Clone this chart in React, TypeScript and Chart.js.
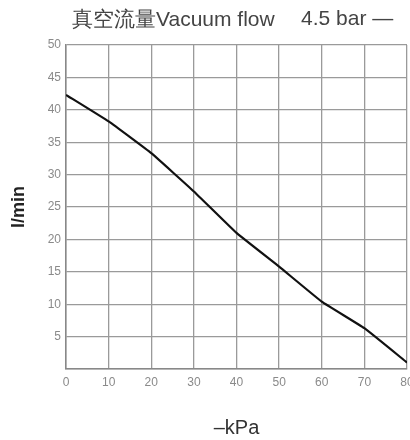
import React, { useEffect, useRef } from "react";
import { Chart, registerables } from "chart.js";

Chart.register(...registerables);

const pressures: number[] = [0, 10, 20, 30, 40, 50, 60, 70, 80];
const flows: number[] = [42.3, 38.2, 33.3, 27.4, 21.0, 15.8, 10.4, 6.3, 1.0];
const titleMain = "真空流量Vacuum flow";
const titleSeries = "4.5 bar —";
const yTitle = "l/min";
const xTitle = "–kPa";

const FONT = "'Liberation Sans', Arial, sans-serif";

const titlePlugin = {
  id: "customTitle",
  afterDraw(chart: any) {
    const ctx = chart.ctx;
    ctx.save();
    ctx.fillStyle = "#444";
    ctx.font = `21px ${FONT}`;
    ctx.textBaseline = "middle";
    ctx.textAlign = "left";
    ctx.fillText(titleMain, 72, 20);
    ctx.fillText(titleSeries, 301, 19);
    ctx.restore();
  },
};

export default function App() {
  const ref = useRef<HTMLCanvasElement | null>(null);
  useEffect(() => {
    if (!ref.current) return;
    const chart = new Chart(ref.current, {
      type: "line",
      data: {
        datasets: [
          {
            data: pressures.map((p, i) => ({ x: p, y: flows[i] })),
            borderColor: "#111",
            borderWidth: 2.2,
            pointRadius: 0,
            tension: 0.1,
            fill: false,
          },
        ],
      },
      options: {
        animation: false,
        responsive: true,
        maintainAspectRatio: false,
        layout: { padding: { top: 45, right: 3, left: 0, bottom: 0 } },
        plugins: { legend: { display: false }, tooltip: { enabled: false } },
        scales: {
          x: {
            type: "linear",
            min: 0,
            max: 80,
            ticks: {
              stepSize: 10,
              color: "#8a8a8a",
              font: { family: FONT, size: 12 },
              padding: 6,
              maxRotation: 0,
            },
            grid: { color: "#9a9a9a", lineWidth: 1.3, drawTicks: false },
            border: { color: "#888", width: 1.5 },
            title: {
              display: true,
              text: xTitle,
              color: "#333",
              font: { family: FONT, size: 20 },
              padding: { top: 32, bottom: 0 },
            },
            afterFit(scale: any) {
              scale.height = 71;
              scale.paddingLeft = 0;
              scale.paddingRight = 0;
            },
          },
          y: {
            type: "linear",
            min: 0,
            max: 50,
            ticks: {
              stepSize: 5,
              color: "#8a8a8a",
              font: { family: FONT, size: 12 },
              padding: 5,
              callback: (v: any) => (v === 0 ? "" : String(v)),
            },
            grid: { color: "#9a9a9a", lineWidth: 1.3, drawTicks: false },
            border: { color: "#888", width: 1.5 },
            title: {
              display: true,
              text: yTitle,
              color: "#222",
              font: { family: FONT, size: 18, weight: "bold" },
              padding: { top: 8, bottom: 0 },
            },
            afterFit(scale: any) {
              scale.width = 66;
              scale.paddingTop = 0;
              scale.paddingBottom = 0;
            },
          },
        },
      },
      plugins: [titlePlugin],
    } as any);
    return () => chart.destroy();
  }, []);
  return (
    <div style={{ position: "fixed", left: 0, top: 0, width: 410, height: 440, background: "#fff" }}>
      <canvas ref={ref} />
    </div>
  );
}
